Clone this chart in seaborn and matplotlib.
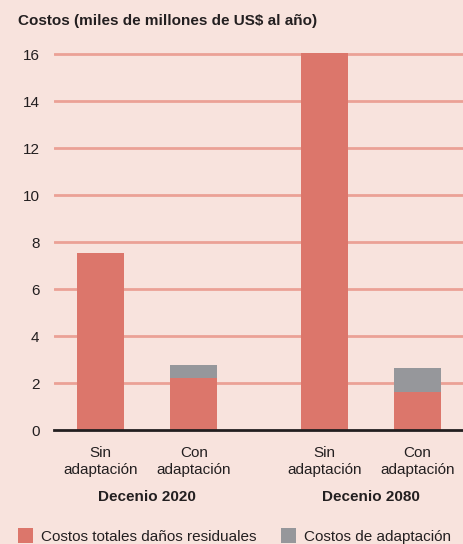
import matplotlib
matplotlib.use("Agg")
import matplotlib.pyplot as plt
from matplotlib.patches import Patch
import seaborn as sns
import pandas as pd

# ---- data ----
categories = ["Sin\nadaptación", "Con\nadaptación", "Sin\nadaptación", "Con\nadaptación"]
positions = [0.0, 1.0, 2.4, 3.4]
residual_damage = [7.55, 2.2, 16.05, 1.62]
adaptation_cost = [0.0, 0.55, 0.0, 1.02]
groups = ["Decenio 2020", "Decenio 2080"]
group_centers = [0.5, 2.9]
y_ticks = [0, 2, 4, 6, 8, 10, 12, 14, 16]
legend_labels = ["Costos totales daños residuales", "Costos de adaptación"]
title = "Costos (miles de millones de US$ al año)"

BG = "#F8E3DD"
RED = "#DC766B"
GREY = "#96979B"
GRID = "#EBA196"
DARK = "#231F20"
FS = 11

sns.set_theme(style="white")
plt.rcParams["font.family"] = ["Liberation Sans", "DejaVu Sans"]

df = pd.DataFrame({
    "pos": positions,
    "residual": residual_damage,
    "total": [r + a for r, a in zip(residual_damage, adaptation_cost)],
})

fig = plt.figure(figsize=(4.64, 5.44), dpi=100, facecolor=BG)
ax = fig.add_axes([54 / 464, 114 / 544, 410 / 464, 383 / 544])
ax.set_facecolor(BG)

sns.barplot(data=df, x="pos", y="total", native_scale=True, color=GREY,
            width=0.5, errorbar=None, saturation=1, ax=ax, zorder=3, linewidth=0)
sns.barplot(data=df, x="pos", y="residual", native_scale=True, color=RED,
            width=0.5, errorbar=None, saturation=1, ax=ax, zorder=4, linewidth=0)

ax.set_xlim(-0.5, 3.9)
ax.set_ylim(0, 16.3)
ax.set_yticks(y_ticks)
ax.set_yticklabels([str(t) for t in y_ticks], fontsize=FS, color=DARK)
ax.set_xticks(positions)
ax.set_xticklabels(categories, fontsize=FS, color=DARK, linespacing=1.25)
ax.tick_params(axis="y", length=0, pad=10.5)
ax.tick_params(axis="x", length=0, pad=11.5)
ax.set_xlabel("")
ax.set_ylabel("")

for t in y_ticks[1:]:
    ax.axhline(t, color=GRID, lw=2, zorder=1)

for s in ["top", "right", "left"]:
    ax.spines[s].set_visible(False)
ax.spines["bottom"].set_color(DARK)
ax.spines["bottom"].set_linewidth(2)
ax.spines["bottom"].set_zorder(5)

for g, c in zip(groups, group_centers):
    ax.text(c, -0.175, g, transform=ax.get_xaxis_transform(), ha="center", va="center",
            fontsize=FS, fontweight="bold", color=DARK)

fig.text(18 / 464, 1 - 21 / 544, title, ha="left", va="center",
         fontsize=FS, fontweight="bold", color=DARK)

handles = [Patch(facecolor=RED, edgecolor="none"), Patch(facecolor=GREY, edgecolor="none")]
leg = fig.legend(handles, legend_labels, loc="center left", bbox_to_anchor=(18 / 464, 1 - 536 / 544),
                 ncol=2, frameon=False, fontsize=FS, handlelength=1.0, handleheight=1.1,
                 handletextpad=0.5, columnspacing=1.6, borderaxespad=0, borderpad=0)
for t in leg.get_texts():
    t.set_color(DARK)

fig.savefig("out.png", dpi=100, facecolor=BG)
